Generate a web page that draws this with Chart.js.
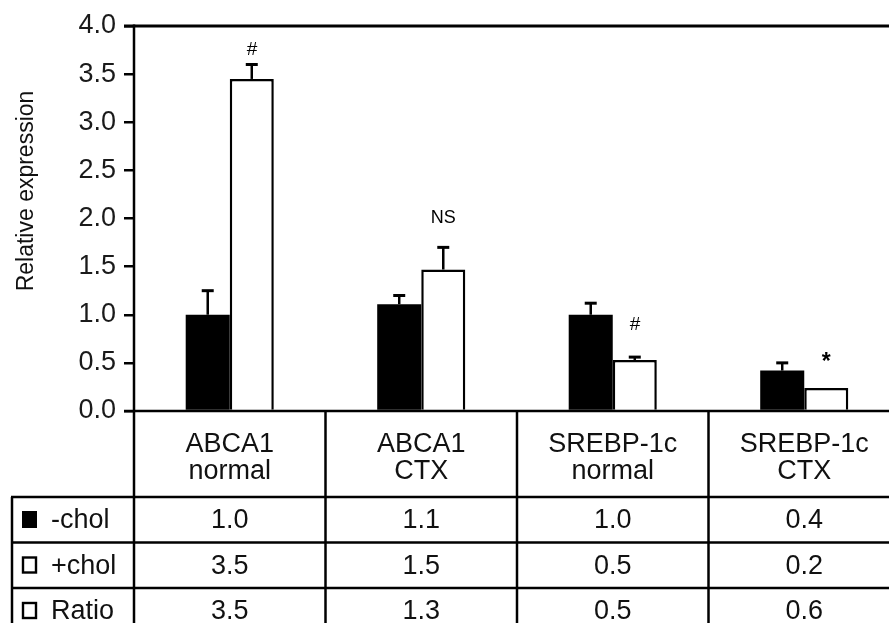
<!DOCTYPE html>
<html>
<head>
<meta charset="utf-8">
<script src="https://cdn.jsdelivr.net/npm/chart.js@4"></script>
<style>
  html, body { margin: 0; padding: 0; background: #fff; overflow: hidden; }
  #wrap { width: 889px; height: 623px; overflow: hidden; }
</style>
</head>
<body>
<div id="wrap"><canvas id="chart" width="900" height="623"></canvas></div>
<script>
// Chart data
const categories = [['ABCA1', 'normal'], ['ABCA1', 'CTX'], ['SREBP-1c', 'normal'], ['SREBP-1c', 'CTX']];
const minusChol = [1.0, 1.11, 1.0, 0.42];
const plusChol = [3.45, 1.47, 0.53, 0.24];
const minusCholErr = [0.25, 0.09, 0.12, 0.08];
const plusCholErr = [0.15, 0.23, 0.03, 0];

// significance marks, drawn over the +chol bar at the given level
const marks = ['#', 'NS', '#', '*'];
const markLevels = [3.75, 2.0, 0.9, 0.53];

// table under the chart
const rowLabels = ['-chol', '+chol', 'Ratio'];
const rowMinus = ['1.0', '1.1', '1.0', '0.4'];
const rowPlus = ['3.5', '1.5', '0.5', '0.2'];
const rowRatio = ['3.5', '1.3', '0.5', '0.6'];

const yMin = 0, yMax = 4, yStep = 0.5;
const FONT = '"Liberation Sans", Arial, sans-serif';

function line(ctx, x1, y1, x2, y2) {
  ctx.beginPath();
  ctx.moveTo(x1, y1);
  ctx.lineTo(x2, y2);
  ctx.stroke();
}

// Draws error bars, marks, frame, axis title and the value table
const figurePlugin = {
  id: 'figure',
  afterDraw(chart) {
    const ctx = chart.ctx;
    const area = chart.chartArea;
    const xs = chart.scales.x, ys = chart.scales.y;
    const W = chart.width, H = chart.height;
    const y0 = ys.getPixelForValue(yMin);
    const yTop = ys.getPixelForValue(yMax);

    ctx.save();
    ctx.strokeStyle = '#000';
    ctx.fillStyle = '#000';

    // error bars
    [minusCholErr, plusCholErr].forEach((errs, d) => {
      const meta = chart.getDatasetMeta(d);
      const vals = chart.data.datasets[d].data;
      meta.data.forEach((bar, i) => {
        if (!errs[i]) return;
        const yt = ys.getPixelForValue(vals[i] + errs[i]);
        ctx.lineWidth = 2.5;
        line(ctx, bar.x, bar.y, bar.x, yt);
        ctx.lineWidth = 3;
        line(ctx, bar.x - 6, yt, bar.x + 6, yt);
      });
    });

    // significance marks
    const plusMeta = chart.getDatasetMeta(1);
    ctx.textAlign = 'center';
    ctx.textBaseline = 'middle';
    marks.forEach((m, i) => {
      const bx = plusMeta.data[i].x;
      const my = ys.getPixelForValue(markLevels[i]);
      if (m === 'NS') ctx.font = '18px ' + FONT;
      else if (m === '*') ctx.font = 'bold 23px ' + FONT;
      else ctx.font = 'italic 19px ' + FONT;
      ctx.fillText(m, bx, m === '*' ? my + 3 : my);
    });

    // frame lines
    ctx.lineWidth = 3;
    line(ctx, area.left - 10, yTop, W, yTop);
    ctx.lineWidth = 2.5;
    line(ctx, area.left - 10, y0, W, y0);
    line(ctx, area.left, yTop - 1.5, area.left, H);

    // axis title
    ctx.save();
    ctx.translate(27, 191);
    ctx.rotate(-Math.PI / 2);
    ctx.font = '23px ' + FONT;
    ctx.fillStyle = '#111';
    ctx.fillText('Relative expression', 0, 0);
    ctx.restore();

    // table
    const catW = (area.right - area.left) / categories.length;
    const headBottom = 497;
    const rowH = 45.5;
    const tableLeft = 12;
    ctx.lineWidth = 2.5;
    for (let i = 1; i < categories.length; i++) {
      const cx = area.left + i * catW;
      line(ctx, cx, y0, cx, H);
    }
    line(ctx, tableLeft, headBottom, tableLeft, H);
    for (let r = 0; r < rowLabels.length; r++) {
      const ry = headBottom + r * rowH;
      line(ctx, tableLeft - 1, ry, W, ry);
    }

    ctx.fillStyle = '#111';
    ctx.font = '27px ' + FONT;
    ctx.textAlign = 'center';
    ctx.textBaseline = 'middle';
    categories.forEach((lab, i) => {
      const cx = xs.getPixelForValue(i);
      ctx.fillText(lab[0], cx, 445);
      ctx.fillText(lab[1], cx, 472);
    });
    [rowMinus, rowPlus, rowRatio].forEach((row, r) => {
      const cy = headBottom + r * rowH + 24;
      row.forEach((v, i) => {
        ctx.fillText(v, xs.getPixelForValue(i), cy);
      });
    });

    // row labels with legend boxes
    ctx.textAlign = 'left';
    rowLabels.forEach((lab, r) => {
      const cy = headBottom + r * rowH + 24;
      if (r === 0) {
        ctx.fillStyle = '#000';
        ctx.fillRect(22, cy - 10, 15, 17);
      } else {
        ctx.lineWidth = 2.4;
        ctx.strokeRect(23, cy - 9, 13, 15);
      }
      ctx.fillStyle = '#111';
      ctx.fillText(lab, 51, cy);
    });

    ctx.restore();
  }
};

const yTicksCb = v => v.toFixed(1);

new Chart(document.getElementById('chart'), {
  type: 'bar',
  data: {
    labels: categories,
    datasets: [
      {
        label: '-chol',
        data: minusChol,
        backgroundColor: '#000',
        borderColor: '#000',
        borderWidth: 0
      },
      {
        label: '+chol',
        data: plusChol,
        backgroundColor: '#fff',
        borderColor: '#000',
        borderWidth: 2.5
      }
    ]
  },
  options: {
    responsive: false,
    animation: false,
    layout: { padding: { left: 0, right: 0, top: 26, bottom: 212 } },
    categoryPercentage: 0.46,
    barPercentage: 1.0,
    plugins: {
      legend: { display: false },
      tooltip: { enabled: false }
    },
    scales: {
      x: { display: false },
      y: {
        min: yMin,
        max: yMax,
        afterFit: s => { s.width = 134; },
        border: { display: false },
        grid: {
          drawOnChartArea: false,
          drawTicks: true,
          tickLength: 10,
          color: '#000',
          lineWidth: 2.5
        },
        ticks: {
          stepSize: yStep,
          padding: 8,
          color: '#1a1a1a',
          font: { family: FONT, size: 27 },
          callback: yTicksCb
        }
      }
    }
  },
  plugins: [figurePlugin]
});
</script>
</body>
</html>
